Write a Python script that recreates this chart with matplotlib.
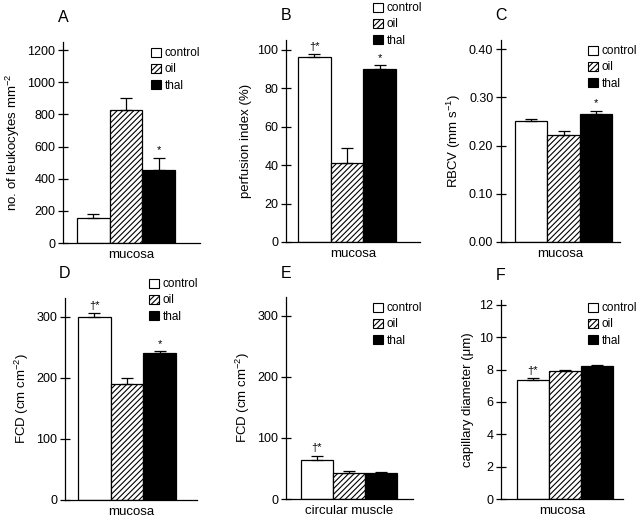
import matplotlib
matplotlib.use("Agg")
import matplotlib.pyplot as plt
import matplotlib.patches as mpatches
import numpy as np

plt.rcParams['font.family'] = ['Liberation Sans', 'DejaVu Sans']
plt.rcParams['mathtext.fontset'] = 'custom'
plt.rcParams['mathtext.rm'] = 'Liberation Sans'
plt.rcParams['mathtext.it'] = 'Liberation Sans:italic'
plt.rcParams['hatch.linewidth'] = 0.8

groups = ['control', 'oil', 'thal']

leuk_vals = [155, 825, 455]
leuk_err = [25, 75, 75]
perf_vals = [96, 41, 90]
perf_err = [1.5, 8, 2]
rbcv_vals = [0.250, 0.222, 0.266]
rbcv_err = [0.006, 0.008, 0.006]
fcd_muc_vals = [300, 190, 241]
fcd_muc_err = [6, 10, 3]
fcd_mus_vals = [64, 43, 42]
fcd_mus_err = [7, 3, 3]
diam_vals = [7.35, 7.9, 8.2]
diam_err = [0.12, 0.1, 0.08]

# significance marks above each bar
leuk_sig = ['', '', '*']
perf_sig = ['\u2020*', '', '*']
rbcv_sig = ['', '', '*']
fcd_muc_sig = ['\u2020*', '', '*']
fcd_mus_sig = ['\u2020*', '', '']
diam_sig = ['\u2020*', '', '']

W, H = 640, 520
fig = plt.figure(figsize=(W / 100, H / 100), dpi=100)

panels = [
    # letter, vals, err, sig, ylabel, xlabel, ticks, ymax, fmt, axis px (left, right, bottom, top), bar px (left,right), legend px (x, y)
    ('A', leuk_vals, leuk_err, leuk_sig, r'no. of leukocytes mm$^{-2}$', 'mucosa',
     range(0, 1201, 200), 1250, '%d', (63, 200, 243, 42), (77, 175), (149, 45)),
    ('B', perf_vals, perf_err, perf_sig, 'perfusion index (%)', 'mucosa',
     range(0, 101, 20), 105, '%d', (286, 420, 242, 40), (298, 396), (371, 0)),
    ('C', rbcv_vals, rbcv_err, rbcv_sig, r'RBCV (mm s$^{-1}$)', 'mucosa',
     np.arange(0, 0.41, 0.1), 0.419, '%.2f', (501, 620, 242, 40), (515, 612), (586, 43)),
    ('D', fcd_muc_vals, fcd_muc_err, fcd_muc_sig, r'FCD (cm cm$^{-2}$)', 'mucosa',
     range(0, 301, 100), 331, '%d', (65, 197, 500, 298), (78, 176), (147, 276)),
    ('E', fcd_mus_vals, fcd_mus_err, fcd_mus_sig, r'FCD (cm cm$^{-2}$)', 'circular muscle',
     range(0, 301, 100), 331, '%d', (286, 413, 499, 297), (301, 397), (371, 300)),
    ('F', diam_vals, diam_err, diam_sig, 'capillary diameter (\u03bcm)', 'mucosa',
     range(0, 13, 2), 12.3, '%d', (501, 623, 499, 300), (517, 613), (586, 300)),
]

for letter, vals, err, sig, ylab, xlab, ticks, ymax, fmt, apx, bpx, lpx in panels:
    l, r, b, t = apx
    ax = fig.add_axes([l / W, (H - b) / H, (r - l) / W, (b - t) / H])
    x = np.arange(3)
    unit = (bpx[1] - bpx[0]) / 3.0
    ax.set_xlim(-0.5 - (bpx[0] - l) / unit, 2.5 + (r - bpx[1]) / unit)
    ax.set_ylim(0, ymax)

    colors = ['white', 'white', 'black']
    hatches = ['', '//////', '']
    bars = ax.bar(x, vals, width=1.0, color=colors, edgecolor='black',
                  linewidth=0.9, zorder=2)
    for bar, h in zip(bars, hatches):
        bar.set_hatch(h)
    ax.errorbar(x, vals, yerr=[np.zeros(3), err], fmt='none', ecolor='black',
                elinewidth=0.9, capsize=4, capthick=0.9, zorder=3)
    for xi, v, e, s in zip(x, vals, err, sig):
        if s:
            ax.text(xi, v + e + ymax * 0.012, s, ha='center', va='bottom', fontsize=8)

    for sp in ['top', 'right']:
        ax.spines[sp].set_visible(False)
    ax.spines['left'].set_linewidth(0.9)
    ax.spines['bottom'].set_linewidth(0.9)
    ax.set_xticks([])
    ax.set_yticks(list(ticks))
    ax.set_yticklabels([fmt % v for v in ticks], fontsize=9)
    ax.tick_params(axis='y', direction='inout', length=7, width=0.9, pad=2)
    ax.set_ylabel(ylab, fontsize=9.5, labelpad=4)
    ax.set_xlabel(xlab, fontsize=9.5, labelpad=4)

    ax.text(l / W, (H - (t - 24)) / H, letter, transform=fig.transFigure,
            ha='center', va='center', fontsize=11.5)

    handles = [mpatches.Patch(facecolor=c, edgecolor='black', hatch=h, linewidth=0.8)
               for c, h in zip(colors, ['', '//////', ''])]
    fig.legend(handles, groups, loc='upper left',
               bbox_to_anchor=(lpx[0] / W, (H - lpx[1]) / H),
               bbox_transform=fig.transFigure, frameon=False, fontsize=8.5,
               handlelength=0.8, handleheight=0.8, handletextpad=0.3,
               labelspacing=0.35, borderpad=0.2, borderaxespad=0)

fig.savefig('out.png', dpi=100)
